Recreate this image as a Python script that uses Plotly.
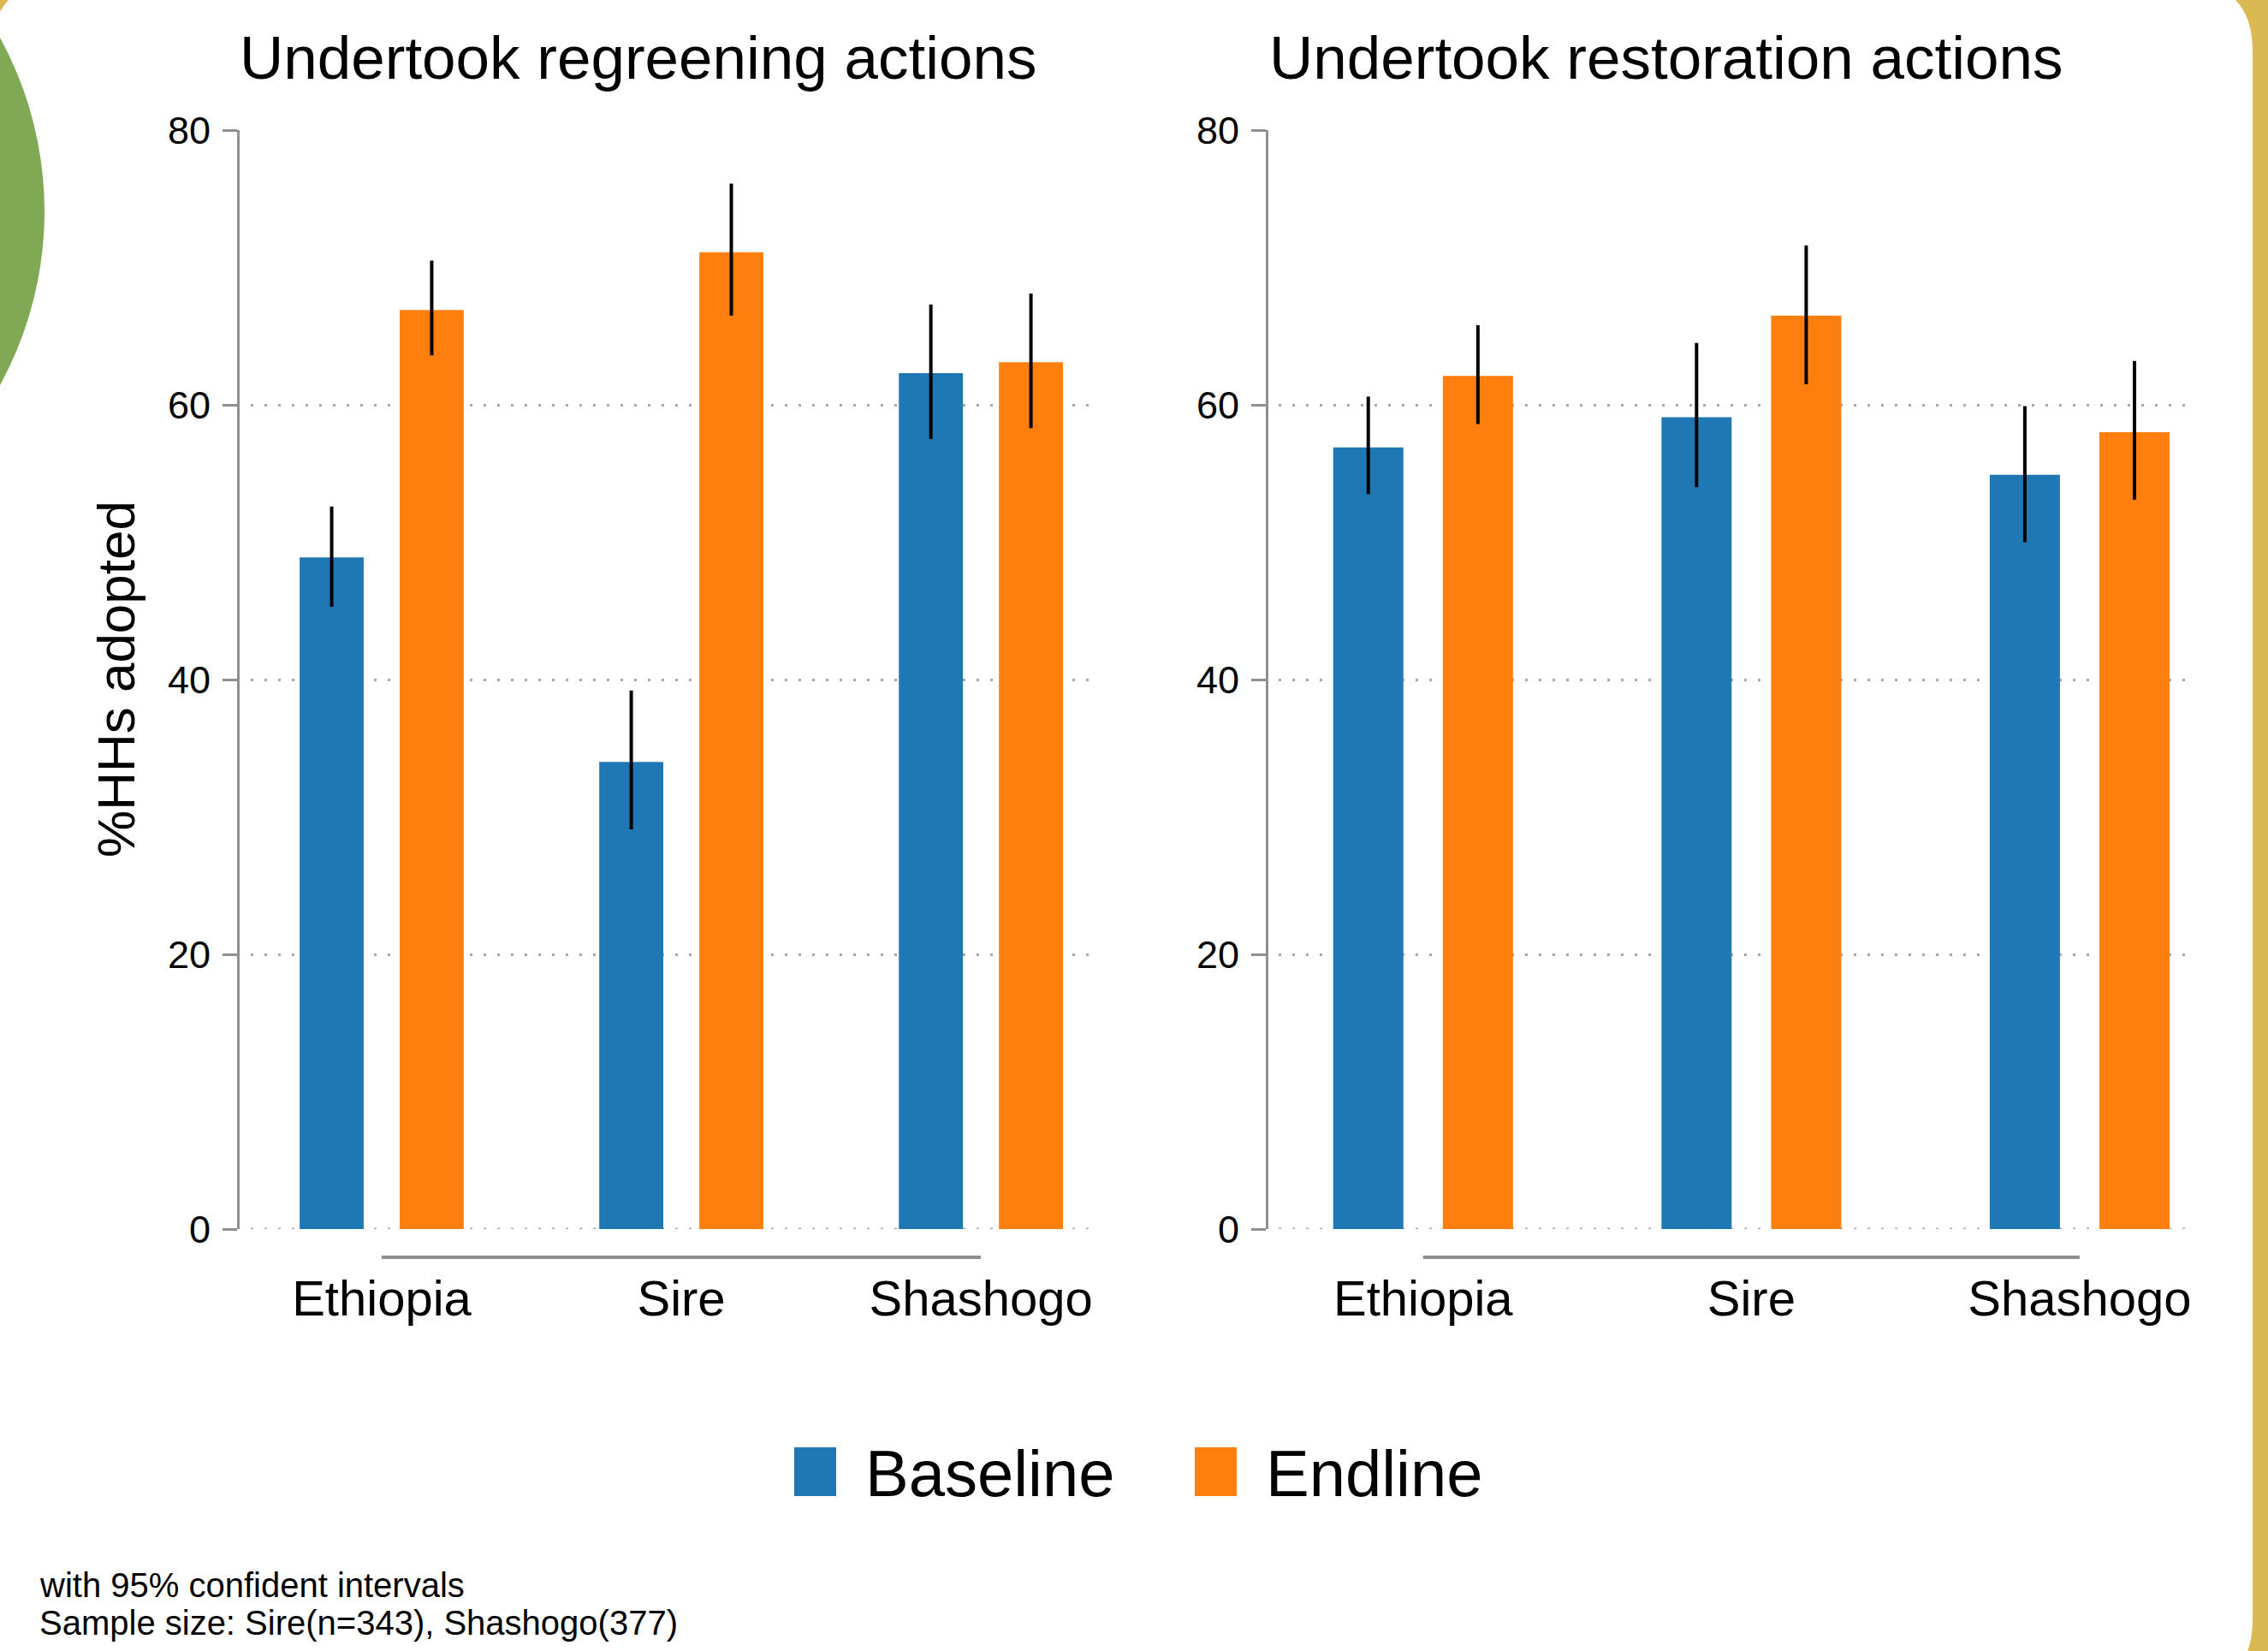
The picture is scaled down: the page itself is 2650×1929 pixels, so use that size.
import plotly.graph_objects as go

# ---------------- data ----------------
categories = ["Ethiopia", "Sire", "Shashogo"]
series_names = ["Baseline", "Endline"]
panel_titles = ["Undertook regreening actions", "Undertook restoration actions"]
y_title = "%HHs adopted"
y_ticks = [0, 20, 40, 60, 80]
footnotes = ["with 95% confident intervals", "Sample size: Sire(n=343), Shashogo(377)"]

regreen_baseline = [48.9, 34.0, 62.3]
regreen_baseline_lo = [45.3, 29.1, 57.5]
regreen_baseline_hi = [52.6, 39.2, 67.3]
regreen_endline = [66.9, 71.1, 63.1]
regreen_endline_lo = [63.6, 66.5, 58.3]
regreen_endline_hi = [70.5, 76.1, 68.1]

restore_baseline = [56.9, 59.1, 54.9]
restore_baseline_lo = [53.5, 54.0, 50.0]
restore_baseline_hi = [60.6, 64.5, 59.9]
restore_endline = [62.1, 66.5, 58.0]
restore_endline_lo = [58.6, 61.5, 53.1]
restore_endline_hi = [65.8, 71.6, 63.2]

# ---------------- style ----------------
W, H = 2650, 1929
BLUE = "#1f77b4"
ORANGE = "#ff7f0e"
GOLD = "#dab852"
GREEN = "#7fa955"
AXIS_GREY = "#8f8f8f"
GRID_GREY = "#a8a8a8"
GRID_DASH = "3px,13px"
FONT = "Liberation Sans, Arial, sans-serif"


def px(x):
    return x / W


def py(y):
    return 1 - y / H


fig = go.Figure()

panels = [
    ("x", "y", [(regreen_baseline, regreen_baseline_lo, regreen_baseline_hi),
                (regreen_endline, regreen_endline_lo, regreen_endline_hi)]),
    ("x2", "y2", [(restore_baseline, restore_baseline_lo, restore_baseline_hi),
                  (restore_endline, restore_endline_lo, restore_endline_hi)]),
]
colors = [BLUE, ORANGE]

for xa, ya, series in panels:
    for i, (vals, lo, hi) in enumerate(series):
        fig.add_trace(go.Bar(
            x=categories, y=vals, name=series_names[i],
            xaxis=xa, yaxis=ya, offsetgroup=str(i),
            marker=dict(color=colors[i], line=dict(width=0)),
            error_y=dict(type="data", symmetric=False,
                         array=[h - v for h, v in zip(hi, vals)],
                         arrayminus=[v - l for v, l in zip(vals, lo)],
                         color="black", thickness=4, width=0),
            showlegend=False,
        ))

yaxis_common = dict(
    range=[0, 80], tickvals=y_ticks, showgrid=True, gridcolor=GRID_GREY,
    gridwidth=3, griddash=GRID_DASH, zeroline=False, showline=True,
    linecolor=AXIS_GREY, linewidth=3, ticks="outside", ticklen=17,
    tickwidth=3, tickcolor=AXIS_GREY, ticklabelstandoff=5,
    tickfont=dict(family=FONT, size=45, color="black"),
    domain=[py(1436), py(152)], anchor="free", automargin=False,
)
xaxis_common = dict(
    showgrid=False, showline=False, ticks="", zeroline=False,
    tickfont=dict(family=FONT, size=58, color="black"),
    ticklabelstandoff=42, automargin=False,
    categoryorder="array", categoryarray=categories,
)

fig.update_layout(
    width=W, height=H,
    margin=dict(l=0, r=0, t=0, b=0, pad=0),
    paper_bgcolor=GOLD, plot_bgcolor="rgba(0,0,0,0)",
    barmode="group", bargap=0.332, bargroupgap=0.36,
    showlegend=False,
    xaxis=dict(domain=[px(293), px(1276)], range=[-0.437, 2.371], anchor="y", **xaxis_common),
    xaxis2=dict(domain=[px(1494), px(2560)], range=[-0.44, 2.339], anchor="y2", **xaxis_common),
    yaxis=dict(position=px(278), **yaxis_common),
    yaxis2=dict(position=px(1480), **yaxis_common),
)

shapes = []
# white rounded panel
x0, x1, y0, y1, r = -10, 2632, -20, 1972, 80
path = (f"M {px(x0 + r)} {py(y0)} L {px(x1 - r)} {py(y0)} "
        f"Q {px(x1)} {py(y0)} {px(x1)} {py(y0 + r)} "
        f"L {px(x1)} {py(y1 - r)} Q {px(x1)} {py(y1)} {px(x1 - r)} {py(y1)} "
        f"L {px(x0 + r)} {py(y1)} Q {px(x0)} {py(y1)} {px(x0)} {py(y1 - r)} "
        f"L {px(x0)} {py(y0 + r)} Q {px(x0)} {py(y0)} {px(x0 + r)} {py(y0)} Z")
shapes.append(dict(type="path", path=path, xref="paper", yref="paper",
                   fillcolor="white", line=dict(width=0), layer="below"))
# green decorative circle
cx, cy, cr = -370, 247, 422
shapes.append(dict(type="circle", xref="paper", yref="paper",
                   x0=px(cx - cr), x1=px(cx + cr), y0=py(cy + cr), y1=py(cy - cr),
                   fillcolor=GREEN, line=dict(width=0), layer="below"))
for xa, ya in [("x", "y"), ("x2", "y2")]:
    # dotted gridline at zero (edge of the plot area)
    shapes.append(dict(type="line", xref=f"{xa} domain", yref=ya,
                       x0=0, x1=1, y0=y_ticks[0], y1=y_ticks[0],
                       line=dict(color=GRID_GREY, width=3, dash=GRID_DASH), layer="below"))
    # category span line under each panel
    shapes.append(dict(type="line", xref=xa, yref="paper",
                       x0=0, x1=len(categories) - 1, y0=py(1469), y1=py(1469),
                       line=dict(color=AXIS_GREY, width=4)))
# legend squares
for i, (sx0, sx1) in enumerate([(928, 977), (1396, 1445)]):
    shapes.append(dict(type="rect", xref="paper", yref="paper",
                       x0=px(sx0), x1=px(sx1), y0=py(1748), y1=py(1691),
                       fillcolor=colors[i], line=dict(width=0)))
fig.update_layout(shapes=shapes)

ann = []
for title, cxp in zip(panel_titles, [745, 1946]):
    ann.append(dict(text=title, x=px(cxp), y=py(68), xref="paper", yref="paper",
                    xanchor="center", yanchor="middle", showarrow=False,
                    font=dict(family=FONT, size=71, color="black")))
ann.append(dict(text=y_title, x=px(135), y=py(794), xref="paper", yref="paper",
                xanchor="center", yanchor="middle", showarrow=False, textangle=-90,
                font=dict(family=FONT, size=62, color="black")))
for name, lx in zip(series_names, [1009, 1477]):
    ann.append(dict(text=name, x=px(lx), y=py(1721), xref="paper", yref="paper",
                    xanchor="left", yanchor="middle", showarrow=False,
                    font=dict(family=FONT, size=76, color="black")))
for line, ly in zip(footnotes, [1852, 1896]):
    ann.append(dict(text=line, x=px(44), y=py(ly), xref="paper", yref="paper",
                    xanchor="left", yanchor="middle", showarrow=False,
                    font=dict(family=FONT, size=40, color="black")))
fig.update_layout(annotations=ann)

fig.write_html("out.html", config={"displayModeBar": False},
               post_script="document.body.style.margin='0';document.body.style.overflow='hidden';")
